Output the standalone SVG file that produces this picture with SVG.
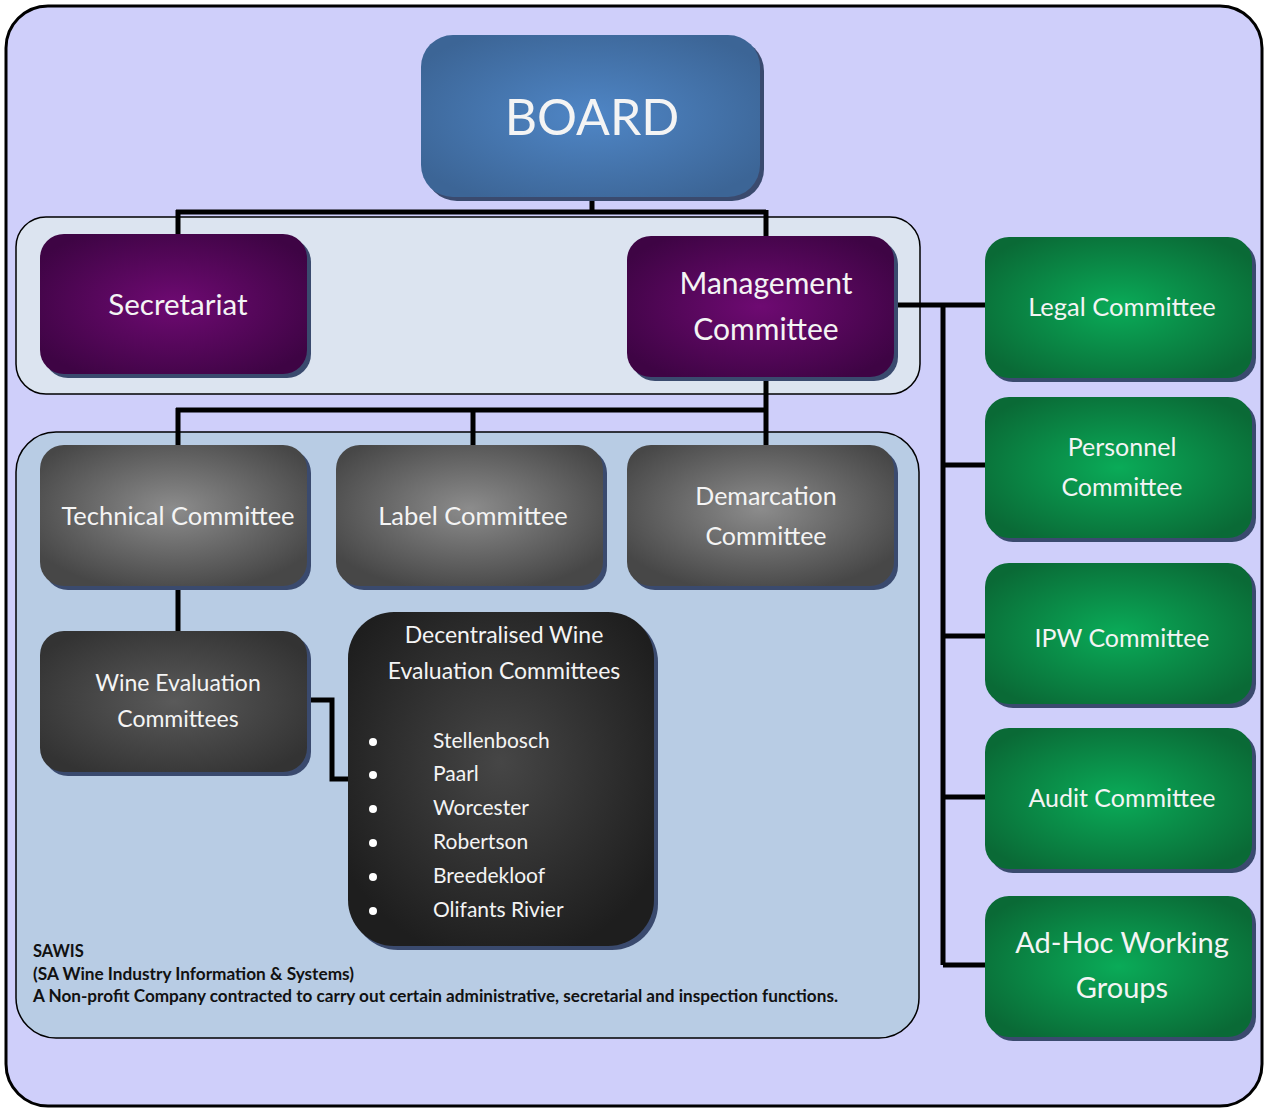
<svg xmlns="http://www.w3.org/2000/svg" width="1266" height="1110" viewBox="0 0 1266 1110">
<defs>
<radialGradient id="gBlue" cx="50%" cy="50%" r="60%"><stop offset="0" stop-color="#4f86c6"/><stop offset="1" stop-color="#3c6596"/></radialGradient>
<radialGradient id="gPurple" cx="50%" cy="50%" r="60%"><stop offset="0" stop-color="#6e0a72"/><stop offset="1" stop-color="#3e0444"/></radialGradient>
<radialGradient id="gGrey" cx="50%" cy="45%" r="60%"><stop offset="0" stop-color="#8c8c8c"/><stop offset="1" stop-color="#474747"/></radialGradient>
<radialGradient id="gDark" cx="50%" cy="50%" r="60%"><stop offset="0" stop-color="#5a5a5a"/><stop offset="1" stop-color="#333333"/></radialGradient>
<radialGradient id="gBlack" cx="50%" cy="45%" r="60%"><stop offset="0" stop-color="#464646"/><stop offset="1" stop-color="#1e1e1e"/></radialGradient>
<radialGradient id="gGreen" cx="50%" cy="50%" r="60%"><stop offset="0" stop-color="#0aab58"/><stop offset="1" stop-color="#0a6a36"/></radialGradient>
<style>
.sh{fill:#3a4a6e}
.t{font-family:Lato,"Open Sans",sans-serif;fill:#f4f4f4;text-anchor:middle}
.c{fill:none;stroke:#000;stroke-width:5}
.b{font-family:Lato,"Open Sans",sans-serif;fill:#f4f4f4;font-size:21px}
.n{font-family:Lato,"Open Sans",sans-serif;fill:#111;font-size:16.5px;font-weight:bold}
</style>
</defs>
<rect x="6" y="6" width="1256" height="1100" rx="42" fill="#cfcffa" stroke="#000" stroke-width="3"/>
<rect x="16" y="217" width="904" height="177" rx="30" fill="#dce4f0" stroke="#000" stroke-width="1.5"/>
<rect x="16" y="432" width="903" height="606" rx="40" fill="#b8cce4" stroke="#000" stroke-width="1.5"/>

<g id="connectors">
<path class="c" d="M592 180V212M176 212H766M178 210V243M766 210V246"/>
<path class="c" d="M766 365V410M176 410H768M178 408V455M473 408V455M766 408V455"/>
<path class="c" d="M892 305H997M943 303V965M943 465H997M943 636H997M943 797H997M943 965H997"/>
<path class="c" d="M178 573V640"/>
<path class="c" d="M302 700H332V779H370"/>
</g>

<g id="board"><rect x="425" y="39" width="339" height="162" rx="32" class="sh"/><rect x="421" y="35" width="339" height="162" rx="32" fill="url(#gBlue)"/><text class="t" x="592" y="135" font-size="50">BOARD</text></g>

<g id="secretariat"><rect x="44" y="238" width="267" height="140" rx="24" class="sh"/><rect x="40" y="234" width="267" height="140" rx="24" fill="url(#gPurple)"/><text class="t" x="178" y="315" font-size="29.5">Secretariat</text></g>
<g id="management"><rect x="631" y="240" width="267" height="141" rx="24" class="sh"/><rect x="627" y="236" width="267" height="141" rx="24" fill="url(#gPurple)"/><text class="t" x="766" y="294" font-size="30">Management</text><text class="t" x="766" y="340" font-size="30">Committee</text></g>

<g id="technical"><rect x="44" y="449" width="267" height="141" rx="24" class="sh"/><rect x="40" y="445" width="267" height="141" rx="24" fill="url(#gGrey)"/><text class="t" x="178" y="525" font-size="25.5">Technical Committee</text></g>
<g id="label"><rect x="340" y="449" width="267" height="141" rx="24" class="sh"/><rect x="336" y="445" width="267" height="141" rx="24" fill="url(#gGrey)"/><text class="t" x="473" y="525" font-size="25.5">Label Committee</text></g>
<g id="demarcation"><rect x="631" y="449" width="267" height="141" rx="24" class="sh"/><rect x="627" y="445" width="267" height="141" rx="24" fill="url(#gGrey)"/><text class="t" x="766" y="505" font-size="25">Demarcation</text><text class="t" x="766" y="545" font-size="25">Committee</text></g>
<g id="wine-evaluation"><rect x="44" y="635" width="267" height="141" rx="24" class="sh"/><rect x="40" y="631" width="267" height="141" rx="24" fill="url(#gDark)"/><text class="t" x="178" y="691" font-size="23">Wine Evaluation</text><text class="t" x="178" y="727" font-size="23">Committees</text></g>

<g id="decentralised"><rect x="352" y="616" width="306" height="334" rx="46" class="sh"/><rect x="348" y="612" width="306" height="334" rx="46" fill="url(#gBlack)"/>
<text class="t" x="504" y="643" font-size="23">Decentralised Wine</text><text class="t" x="504" y="679" font-size="23">Evaluation Committees</text>
<g fill="#fff"><circle cx="373" cy="742" r="4"/><circle cx="373" cy="775" r="4"/><circle cx="373" cy="809" r="4"/><circle cx="373" cy="843" r="4"/><circle cx="373" cy="877" r="4"/><circle cx="373" cy="911" r="4"/></g>
<text class="b" x="433" y="748">Stellenbosch</text><text class="b" x="433" y="781">Paarl</text><text class="b" x="433" y="815">Worcester</text><text class="b" x="433" y="849">Robertson</text><text class="b" x="433" y="883">Breedekloof</text><text class="b" x="433" y="917">Olifants Rivier</text></g>

<g id="legal"><rect x="989" y="241" width="267" height="141" rx="24" class="sh"/><rect x="985" y="237" width="267" height="141" rx="24" fill="url(#gGreen)"/><text class="t" x="1122" y="316" font-size="25.5">Legal Committee</text></g>
<g id="personnel"><rect x="989" y="401" width="267" height="141" rx="24" class="sh"/><rect x="985" y="397" width="267" height="141" rx="24" fill="url(#gGreen)"/><text class="t" x="1122" y="456" font-size="25">Personnel</text><text class="t" x="1122" y="496" font-size="25">Committee</text></g>
<g id="ipw"><rect x="989" y="567" width="267" height="141" rx="24" class="sh"/><rect x="985" y="563" width="267" height="141" rx="24" fill="url(#gGreen)"/><text class="t" x="1122" y="647" font-size="25">IPW Committee</text></g>
<g id="audit"><rect x="989" y="732" width="267" height="141" rx="24" class="sh"/><rect x="985" y="728" width="267" height="141" rx="24" fill="url(#gGreen)"/><text class="t" x="1122" y="807" font-size="25">Audit Committee</text></g>
<g id="adhoc"><rect x="989" y="900" width="267" height="141" rx="24" class="sh"/><rect x="985" y="896" width="267" height="141" rx="24" fill="url(#gGreen)"/><text class="t" x="1122" y="953" font-size="29">Ad-Hoc Working</text><text class="t" x="1122" y="998" font-size="29">Groups</text></g>

<g id="sawis-note"><text class="n" x="33" y="957">SAWIS</text><text class="n" x="33" y="980" textLength="321" lengthAdjust="spacingAndGlyphs">(SA Wine Industry Information &amp; Systems)</text><text class="n" x="33" y="1002" textLength="805" lengthAdjust="spacingAndGlyphs">A Non-profit Company contracted to carry out certain administrative, secretarial and inspection functions.</text></g>
</svg>
